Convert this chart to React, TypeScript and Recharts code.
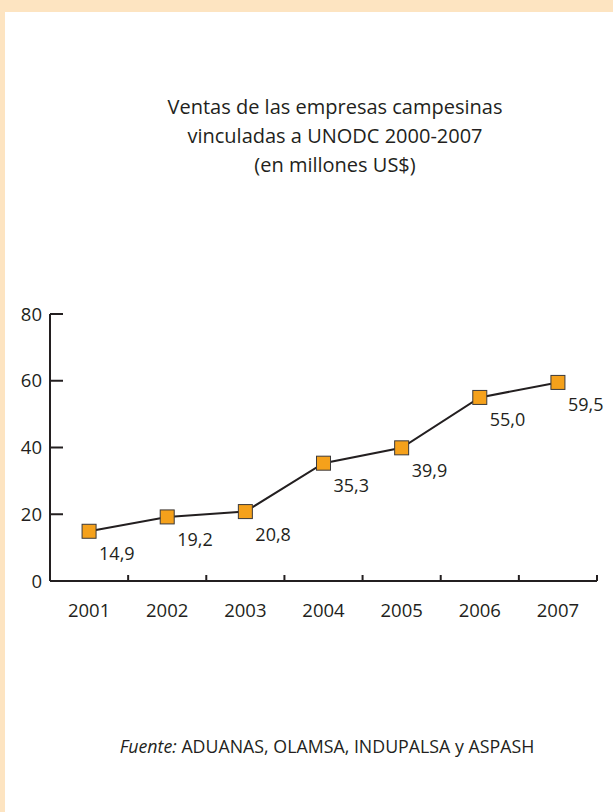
import React from 'react';
import { LineChart, Line, XAxis, YAxis } from 'recharts';

const years = ['2001', '2002', '2003', '2004', '2005', '2006', '2007'];
const ventas = [14.9, 19.2, 20.8, 35.3, 39.9, 55.0, 59.5];
const yTicks = [0, 20, 40, 60, 80];
const titleLines = [
  'Ventas de las empresas campesinas',
  'vinculadas a UNODC 2000-2007',
  '(en millones US$)',
];
const sourceLabel = 'Fuente:';
const sourceText = 'ADUANAS, OLAMSA, INDUPALSA y ASPASH';

const data = years.map((year, i) => ({ pos: i + 0.5, year, value: ventas[i] }));
const boundaryTicks = years.map((_, i) => i).concat(years.length);
const labelTicks = data.map((d) => d.pos);

const FONT = '"Open Sans", "Noto Sans", sans-serif';
const INK = '#231F20';

const fmt = (v: number) => v.toFixed(1).replace('.', ',');

const SquareDot = (props: any) => {
  const { cx, cy, index } = props;
  if (cx == null || cy == null) return null;
  const s = 14;
  return (
    <rect
      key={`dot-${index}`}
      x={cx - s / 2}
      y={cy - s / 2}
      width={s}
      height={s}
      fill="#F5A11B"
      stroke="#3C3A3A"
      strokeWidth={1}
    />
  );
};

const ValueLabel = (props: any) => {
  const { x, y, value, index } = props;
  return (
    <text
      key={`lbl-${index}`}
      x={x + 10}
      y={y + 29}
      fontSize={18}
      fill={INK}
      fontFamily={FONT}
    >
      {fmt(value)}
    </text>
  );
};

export default function App() {
  return (
    <div
      style={{
        position: 'absolute',
        top: 0,
        left: 0,
        width: 613,
        height: 812,
        background: '#FDE4C1',
        overflow: 'hidden',
        fontFamily: FONT,
      }}
    >
      <div
        style={{
          position: 'absolute',
          left: 5,
          top: 12,
          width: 608,
          height: 800,
          background: '#FFFFFF',
        }}
      />
      <div
        style={{
          position: 'absolute',
          left: 135,
          top: 92,
          width: 400,
          textAlign: 'center',
          fontSize: 20,
          lineHeight: '29px',
          color: INK,
        }}
      >
        {titleLines.map((t) => (
          <div key={t}>{t}</div>
        ))}
      </div>
      <div
        style={{
          position: 'absolute',
          left: 27,
          top: 733,
          width: 600,
          textAlign: 'center',
          fontSize: 17.8,
          lineHeight: '26px',
          color: INK,
        }}
      >
        <i>{sourceLabel}</i> {sourceText}
      </div>
      <div style={{ position: 'absolute', left: 0, top: 0 }}>
        <LineChart
          width={613}
          height={812}
          data={data}
          margin={{ top: 314, right: 16, left: 0, bottom: 190 }}
        >
          <XAxis
            xAxisId="b"
            type="number"
            dataKey="pos"
            domain={[0, 7]}
            ticks={labelTicks}
            interval={0}
            tickFormatter={(v: number) => years[Math.floor(v)]}
            axisLine={false}
            tickLine={false}
            tickSize={0}
            tickMargin={22}
            height={40}
            tick={{ fill: INK, fontSize: 18.5, fontFamily: FONT }}
          />
          <XAxis
            xAxisId="a"
            type="number"
            dataKey="pos"
            domain={[0, 7]}
            ticks={boundaryTicks}
            interval={0}
            tickFormatter={() => ''}
            tick={{ fill: 'none', fontSize: 1 }}
            tickSize={-6}
            height={1}
            axisLine={{ stroke: INK, strokeWidth: 2 }}
            tickLine={{ stroke: INK, strokeWidth: 2 }}
          />
          <YAxis
            type="number"
            domain={[0, 80]}
            ticks={yTicks}
            width={50}
            tickSize={-13}
            tickMargin={21}
            axisLine={{ stroke: INK, strokeWidth: 2 }}
            tickLine={{ stroke: INK, strokeWidth: 2 }}
            tick={{ fill: INK, fontSize: 18.5, fontFamily: FONT }}
          />
          <Line
            xAxisId="a"
            type="linear"
            dataKey="value"
            stroke={INK}
            strokeWidth={2}
            dot={<SquareDot />}
            activeDot={false}
            label={<ValueLabel />}
            isAnimationActive={false}
          />
        </LineChart>
      </div>
    </div>
  );
}
